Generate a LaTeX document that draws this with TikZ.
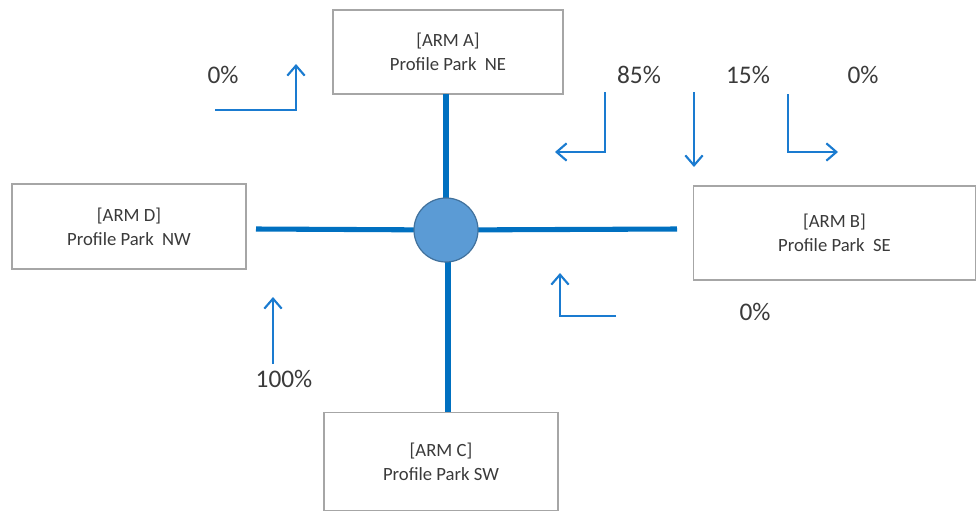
\documentclass[tikz,border=0pt]{standalone}
\usepackage{fontspec}
\setmainfont{Carlito}
\usetikzlibrary{arrows.meta}
\definecolor{roadblue}{HTML}{0070C0}
\definecolor{arrowblue}{HTML}{1A7BD0}
\definecolor{hubfill}{HTML}{5B9BD5}
\definecolor{hubline}{HTML}{41719C}
\definecolor{boxline}{HTML}{A6A6A6}
\definecolor{txt}{HTML}{3A3A3A}
\begin{document}
\begin{tikzpicture}[x=0.75pt,y=-0.75pt,
  armbox/.style={draw=boxline, line width=0.9pt, fill=white, align=center, text=txt,
    font=\fontsize{14}{18}\selectfont, inner sep=0pt},
  road/.style={draw=roadblue, line width=3.8pt},
  flow/.style={draw=arrowblue, line width=1.6pt, -{Straight Barb[length=7.5pt,width=13pt,line width=1.6pt]}},
  pct/.style={text=txt, font=\fontsize{19}{20}\selectfont, inner sep=0pt}]
\useasboundingbox (0,0) rectangle (976,511);
% roads
\coordinate (dend) at (256,229);
\coordinate (bend) at (677,229);
\coordinate (hubc) at (446,230);
\node[armbox, minimum width=172.5pt, minimum height=63pt] (A) at (448,52) {[ARM A]\\Profile Park\ \ NE};
\node[armbox, minimum width=175.5pt, minimum height=63.75pt] (D) at (129,226.5) {[ARM D]\\Profile Park\ \ NW};
\node[armbox, minimum width=211.5pt, minimum height=70.5pt] (B) at (834.5,233) {[ARM B]\\Profile Park\ \ SE};
\node[armbox, minimum width=175.5pt, minimum height=73.5pt] (C) at (441,461.5) {[ARM C]\\Profile Park SW};
\coordinate (atop) at (446,94);
\coordinate (cbot) at (448,412);
\draw[road] (dend) -- (hubc);
\draw[road] (hubc) -- (bend);
\draw[road] (atop) -- (446,230);
\draw[road] (448,230) -- (cbot);
\node[circle, fill=hubfill, draw=hubline, line width=0.9pt, minimum size=48pt, inner sep=0pt] (hub) at (hubc) {};
% percentages
\node[pct] (p1) at (223,75) {0\%};
\node[pct] (p2) at (639,75) {85\%};
\node[pct] (p3) at (748,75) {15\%};
\node[pct] (p4) at (863,75) {0\%};
\node[pct] (p5) at (755,312) {0\%};
\node[pct] (p6) at (284,379) {100\%};
% flow arrows
\coordinate (f1a) at (215,110); \coordinate (f1b) at (296,110); \coordinate (f1c) at (296,64);
\draw[flow] (f1a) -- (f1b) -- (f1c);
\coordinate (f2a) at (605,92); \coordinate (f2b) at (605,152); \coordinate (f2c) at (555,152);
\draw[flow] (f2a) -- (f2b) -- (f2c);
\coordinate (f3a) at (694,92); \coordinate (f3b) at (694,167);
\draw[flow] (f3a) -- (f3b);
\coordinate (f4a) at (788,94); \coordinate (f4b) at (788,152); \coordinate (f4c) at (838,152);
\draw[flow] (f4a) -- (f4b) -- (f4c);
\coordinate (f5a) at (616,316); \coordinate (f5b) at (560,316); \coordinate (f5c) at (560,273);
\draw[flow] (f5a) -- (f5b) -- (f5c);
\coordinate (f6a) at (273,364); \coordinate (f6b) at (273,297);
\draw[flow] (f6a) -- (f6b);
\end{tikzpicture}
\end{document}
